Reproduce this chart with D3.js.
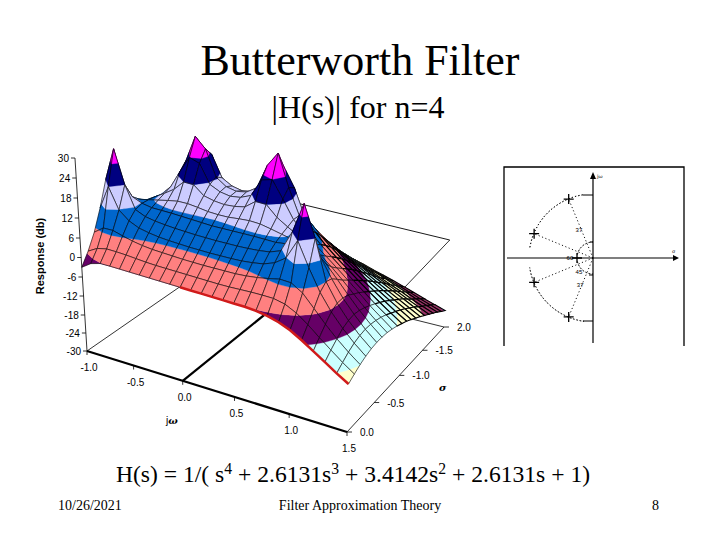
<!DOCTYPE html>
<html>
<head>
<meta charset="utf-8">
<script src="https://cdnjs.cloudflare.com/ajax/libs/d3/7.8.5/d3.min.js"></script>
<style>
  body { margin: 0; background: #fff; }
  text { fill: #000; }
</style>
</head>
<body>
<svg id="chart" width="720" height="540"></svg>
<script>
// grid of the surface
var omegas = [-1, -0.9, -0.8, -0.7, -0.6, -0.5, -0.4, -0.3, -0.2, -0.1, 0, 0.1, 0.2, 0.3, 0.4, 0.5, 0.6, 0.7, 0.8, 0.9, 1, 1.1, 1.2, 1.3, 1.4, 1.5]
var sigmas = [0, -0.1, -0.2, -0.3, -0.4, -0.5, -0.6, -0.7, -0.8, -0.9, -1, -1.1, -1.2, -1.3, -1.4, -1.5, -1.6, -1.7, -1.8, -1.9, -2]

// estimated response in db, one row per sigma, one column per omega
var responseDb = [
  [-3, -1, -0.1, 0, 0, 0, 0, 0, 0, 0, 0, 0, 0, 0, 0, 0, 0, -0.2, -0.7, -1.6, -3, -5, -7.3, -9.6, -12, -14.2],
  [0.5, 2.2, 2.9, 2.9, 2.8, 2.6, 2.4, 2.3, 2.3, 2.3, 2.3, 2.3, 2.3, 2.3, 2.4, 2.6, 2.8, 2.9, 2.9, 2.2, 0.5, -2, -4.9, -7.7, -10.5, -13],
  [4.9, 7, 7.1, 6.3, 5.6, 5.1, 4.8, 4.7, 4.6, 4.5, 4.5, 4.5, 4.6, 4.7, 4.8, 5.1, 5.6, 6.3, 7.1, 7, 4.9, 1.2, -2.6, -6, -9.1, -11.9],
  [10.8, 18, 11.8, 9.4, 8.1, 7.5, 7.1, 6.9, 6.8, 6.7, 6.7, 6.7, 6.8, 6.9, 7.1, 7.5, 8.1, 9.4, 11.8, 18, 10.8, 4.4, -0.6, -4.6, -8.1, -11.1],
  [18, 28, 18, 11.4, 10.1, 9.6, 9.3, 9.1, 9, 8.9, 8.9, 8.9, 9, 9.1, 9.3, 9.6, 10.1, 11.4, 18, 27.5, 18, 6, 0.4, -3.9, -7.5, -10.6],
  [10.7, 17, 13.1, 11.9, 11.4, 11.4, 11.4, 11.3, 11.2, 11.1, 11, 11.1, 11.2, 11.3, 11.4, 11.4, 11.4, 11.9, 13.1, 17, 10.7, 5.2, 0.3, -3.7, -7.3, -10.4],
  [7.1, 9.8, 11, 11.6, 12.3, 13, 13.6, 13.7, 13.4, 13, 12.9, 13, 13.4, 13.7, 13.6, 13, 12.3, 11.6, 11, 9.8, 7.1, 3.4, -0.5, -4.2, -7.5, -10.5],
  [4.6, 7.3, 9.4, 11.2, 13, 15, 18, 18, 15.5, 14.8, 14.5, 14.8, 15.5, 18, 18, 15, 13, 11.2, 9.4, 7.3, 4.6, 1.5, -1.8, -5, -8, -10.8],
  [2.7, 5.4, 8, 10.6, 13.7, 19, 24, 23, 17.5, 16.1, 15.6, 16.1, 17.5, 23, 24, 19, 13.7, 10.6, 8, 5.4, 2.7, -0.1, -3, -6, -8.7, -11.4],
  [1, 3.7, 6.5, 9.6, 13.5, 21, 29, 26, 18.4, 16.3, 15.7, 16.3, 18.4, 26, 30.5, 21, 13.5, 9.6, 6.5, 3.7, 1, -1.7, -4.4, -7.1, -9.6, -12.1],
  [-0.7, 1.9, 4.7, 7.9, 11.7, 19.5, 25, 23, 16.8, 15.1, 14.5, 15.1, 16.8, 23, 25, 19.5, 11.7, 7.9, 4.7, 1.9, -0.7, -3.3, -5.8, -8.3, -10.7, -13],
  [-2.4, 0, 2.7, 5.5, 8.6, 11.9, 16, 16, 13.5, 12.7, 12.3, 12.7, 13.5, 16, 16, 11.9, 8.6, 5.5, 2.7, 0, -2.4, -4.9, -7.2, -9.5, -11.8, -13.9],
  [-4.3, -2, 0.4, 2.8, 5.3, 7.5, 9.2, 9.9, 9.7, 9.5, 9.4, 9.5, 9.7, 9.9, 9.2, 7.5, 5.3, 2.8, 0.4, -2, -4.3, -6.5, -8.7, -10.8, -12.9, -15],
  [-6.2, -4.1, -2, 0.1, 2, 3.8, 5.1, 5.8, 6.1, 6.2, 6.2, 6.2, 6.1, 5.8, 5.1, 3.8, 2, 0.1, -2, -4.1, -6.2, -8.2, -10.2, -12.2, -14.1, -16.1],
  [-8.1, -6.2, -4.4, -2.6, -1, 0.4, 1.6, 2.3, 2.7, 2.9, 3, 2.9, 2.7, 2.3, 1.6, 0.4, -1, -2.6, -4.4, -6.2, -8.1, -10, -11.8, -13.6, -15.4, -17.2],
  [-10, -8.3, -6.7, -5.2, -3.8, -2.6, -1.6, -0.9, -0.4, -0.1, 0, -0.1, -0.4, -0.9, -1.6, -2.6, -3.8, -5.2, -6.7, -8.3, -10, -11.6, -13.3, -14.9, -16.6, -18.4],
  [-11.9, -10.4, -8.9, -7.4, -6, -5, -4.4, -3.8, -3.3, -3.1, -3, -3.1, -3.3, -3.8, -4.4, -5, -6, -7.4, -8.9, -10.4, -11.9, -13.4, -14.9, -16.5, -18, -19.6],
  [-13.8, -12.4, -11.1, -9.7, -8.5, -7.7, -7.1, -6.5, -6, -5.8, -5.7, -5.8, -6, -6.5, -7.1, -7.7, -8.5, -9.7, -11.1, -12.4, -13.8, -15.2, -16.5, -18, -19.4, -20.8],
  [-15.4, -14.2, -13.1, -11.9, -10.9, -10.2, -9.6, -9.1, -8.7, -8.5, -8.4, -8.5, -8.7, -9.1, -9.6, -10.2, -10.9, -11.9, -13.1, -14.2, -15.4, -16.7, -18, -19.4, -20.7, -22],
  [-17.2, -16.1, -15.1, -14, -13.1, -12.4, -11.9, -11.4, -11.1, -10.9, -10.8, -10.9, -11.1, -11.4, -11.9, -12.4, -13.1, -14, -15.1, -16.1, -17.2, -18.4, -19.6, -20.9, -22.1, -23.3],
  [-18.9, -17.9, -17, -16, -15.2, -14.6, -14.1, -13.7, -13.4, -13.2, -13.1, -13.2, -13.4, -13.7, -14.1, -14.6, -15.2, -16, -17, -17.9, -18.9, -20, -21.1, -22.3, -23.4, -24.5]
]

// colour bands, 6 db each
var bandFloors = [-36, -24, -18, -12, -6, 0, 6, 12, 18, 24]
var bandCeils = [-24, -18, -12, -6, 0, 6, 12, 18, 24, 99]
var bandColors = ['#9999ff', '#993366', '#ffffcc', '#ccffff', '#660066', '#ff8080', '#0066cc', '#ccccff', '#000080', '#ff00ff']

// axis ticks
var dbTicks = [30, 24, 18, 12, 6, 0, -6, -12, -18, -24, -30]
var omegaTicks = [-1, -0.5, 0, 0.5, 1, 1.5]
var omegaLabels = ['-1.0', '-0.5', '0.0', '0.5', '1.0', '1.5']
var sigmaTicks = [0, -0.5, -1, -1.5, -2]
var sigmaLabels = ['0.0', '-0.5', '-1.0', '-1.5', '2.0']

// poles for the s plane sketch
var poleSigma = [-0.38, -0.92, -0.92, -0.38, -0.25]
var poleOmega = [0.92, 0.38, -0.38, -0.92, 0]
var angleLabels = ['37', '45', '37', '60']
var angleSigma = [-0.22, -0.22, -0.2, -0.36]
var angleOmega = [0.44, -0.22, -0.42, 0]

var svg = d3.select('#chart')

var uScale = d3.scaleLinear().domain([-1, 1.5]).range([0, 1])
var vScale = d3.scaleLinear().domain([0, -2]).range([0, 1])
var dbHeight = d3.scaleLinear().domain([-30, -18, -6, 6, 18, 30]).range([0, 36, 74, 113, 153, 193])

// floor corners on screen, then the perspective map of the floor
var x0 = 87, y0 = 351, x1 = 347, y1 = 432, x2 = 444, y2 = 327, x3 = 207, y3 = 268
var sx = x0 - x1 + x2 - x3, sy = y0 - y1 + y2 - y3
var dx1 = x1 - x2, dx2 = x3 - x2, dy1 = y1 - y2, dy2 = y3 - y2
var den = dx1 * dy2 - dx2 * dy1
var g = (sx * dy2 - dx2 * sy) / den, h = (dx1 * sy - sx * dy1) / den
var a = x1 - x0 + g * x1, b = x3 - x0 + h * x3
var d = y1 - y0 + g * y1, e = y3 - y0 + h * y3

function project(omega, sigma, db) {
  var u = uScale(omega), v = vScale(sigma)
  var w = g * u + h * v + 1
  var fx = (a * u + b * v + x0) / w
  var fy = (d * u + e * v + y0) / w
  var up = dbHeight(db)
  // verticals lean in towards the middle
  return [260 + (fx - 260) * (1 + up * 0.00036), fy - up]
}

function line3(p, q) {
  return 'M' + project(p[0], p[1], p[2]).join(',') + 'L' + project(q[0], q[1], q[2]).join(',')
}

// floor and frame, these sit behind the surface
var frame = [
  { from: [-1, 0, -30], to: [1.5, 0, -30], w: 2.2 },
  { from: [0, 0, -30], to: [0, -2, -30], w: 2.2 },
  { from: [-1, 0, -30], to: [-1, -2, -30], w: 0.8 },
  { from: [1.5, 0, -30], to: [1.5, -2, -30], w: 0.8 },
  { from: [0.7, -2, -30], to: [1.5, -2, -30], w: 0.8 },
  { from: [0.02, -2, -2], to: [1.5, -2, -2], w: 0.9 },
  { from: [1.5, -2, -2], to: [1.5, -0.95, -2], w: 0.8 }
]
svg.append('g').selectAll('path').data(frame).join('path')
  .attr('d', function (f) { return line3(f.from, f.to) })
  .attr('stroke', '#000').attr('stroke-width', function (f) { return f.w }).attr('fill', 'none')

// clip a cell's corners to one db band
function clipBand(pts, lo, hi) {
  function cut(list, keep, level) {
    var out = []
    list.forEach(function (p, i) {
      var q = list[(i + 1) % list.length]
      if (keep(p[2])) out.push(p)
      if (keep(p[2]) != keep(q[2])) {
        var t = (level - p[2]) / (q[2] - p[2])
        out.push([p[0] + t * (q[0] - p[0]), p[1] + t * (q[1] - p[1]), level])
      }
    })
    return out
  }
  var r = cut(pts, function (z) { return z >= lo }, lo)
  if (r.length) r = cut(r, function (z) { return z <= hi }, hi)
  return r
}

function polyPath(pts) {
  return 'M' + pts.map(function (p) { return project(p[0], p[1], p[2]).join(',') }).join('L') + 'Z'
}

// cells back to front so the near ones paint over the far ones
var cells = []
for (var r = sigmas.length - 2; r >= 0; r--) {
  for (var c = 0; c < omegas.length - 1; c++) {
    cells.push([
      [omegas[c], sigmas[r + 1], responseDb[r + 1][c]],
      [omegas[c + 1], sigmas[r + 1], responseDb[r + 1][c + 1]],
      [omegas[c + 1], sigmas[r], responseDb[r][c + 1]],
      [omegas[c], sigmas[r], responseDb[r][c]]
    ])
  }
}

var cellG = svg.append('g').selectAll('g').data(cells).join('g')
cellG.each(function (cell) {
  var node = d3.select(this)
  bandColors.forEach(function (col, i) {
    var part = clipBand(cell, bandFloors[i], bandCeils[i])
    if (part.length > 2) {
      node.append('path').attr('d', polyPath(part)).attr('fill', col).attr('stroke', col).attr('stroke-width', 0.3)
    }
  })
  // the far right corner of the mesh is packed much tighter in the picture
  var packed = cell[0][0] >= 0.7 && cell[0][1] <= -1
  node.append('path').attr('d', polyPath(cell)).attr('fill', 'none').attr('stroke', '#000').attr('stroke-width', packed ? 1.1 : 0.6)
})

// red front edge
var edge = omegas.map(function (o, i) { return project(o, 0, responseDb[0][i]) }).filter(function (p, i) { return omegas[i] >= 0 })
svg.append('path').attr('d', d3.line()(edge)).attr('fill', 'none').attr('stroke', '#d01a1a').attr('stroke-width', 2.5)

// response axis
var axisG = svg.append('g').attr('font-family', 'Liberation Sans, Arial').attr('font-size', 10)
axisG.append('path').attr('d', line3([-1, 0, -30], [-1, 0, 30])).attr('stroke', '#000').attr('stroke-width', 0.8)
dbTicks.forEach(function (t) {
  var p = project(-1, 0, t)
  axisG.append('line').attr('x1', p[0] - 4).attr('x2', p[0]).attr('y1', p[1]).attr('y2', p[1]).attr('stroke', '#000').attr('stroke-width', 0.8)
  axisG.append('text').attr('x', p[0] - 6).attr('y', p[1] + 3.5).attr('text-anchor', 'end').text(t)
})
axisG.append('text').attr('transform', 'translate(44,256) rotate(-90)').attr('text-anchor', 'middle')
  .attr('font-weight', 'bold').attr('font-size', 11).text('Response (db)')

// omega and sigma ticks along the floor
omegaTicks.forEach(function (t, i) {
  var p = project(t, 0, -30)
  axisG.append('line').attr('x1', p[0]).attr('x2', p[0]).attr('y1', p[1]).attr('y2', p[1] + 4).attr('stroke', '#000').attr('stroke-width', 0.8)
  axisG.append('text').attr('x', p[0] + 2).attr('y', p[1] + 20).attr('text-anchor', 'middle').text(omegaLabels[i])
})
sigmaTicks.forEach(function (t, i) {
  var p = project(1.5, t, -30)
  axisG.append('line').attr('x1', p[0]).attr('x2', p[0] + 5).attr('y1', p[1]).attr('y2', p[1]).attr('stroke', '#000').attr('stroke-width', 0.8)
  axisG.append('text').attr('x', p[0] + 13).attr('y', p[1] + 4).text(sigmaLabels[i])
})
axisG.append('text').attr('x', 166).attr('y', 424).text('j').append('tspan').attr('font-family', 'DejaVu Serif').attr('font-style', 'italic').attr('font-weight', 'bold').text('ω')
axisG.append('text').attr('x', 439).attr('y', 391).attr('font-family', 'DejaVu Serif').attr('font-style', 'italic').attr('font-weight', 'bold').text('σ')

// s plane sketch
var planeG = svg.append('g')
var px = d3.scaleLinear().domain([-1, 1]).range([529, 657])
var py = d3.scaleLinear().domain([-1, 1]).range([322, 194])
var ox = px(0), oy = py(0)

planeG.append('path').attr('d', 'M504,346V167H684V346').attr('fill', 'none').attr('stroke', '#000').attr('stroke-width', 1.3)
planeG.append('path').attr('d', 'M507,' + oy + 'H676M' + ox + ',176V343').attr('fill', 'none').attr('stroke', '#000').attr('stroke-width', 1.2)
planeG.append('path').attr('d', 'M673,255L679,' + oy + 'L673,261ZM590,179L' + ox + ',172L596,179Z').attr('fill', '#000')

var bigArc = d3.arc().innerRadius(64).outerRadius(64)
var smallArc = d3.arc().innerRadius(16).outerRadius(16)
var arcs = [
  bigArc({ startAngle: -0.16, endAngle: -1.42 }),
  bigArc({ startAngle: -3.0, endAngle: -1.72 }),
  smallArc({ startAngle: 0, endAngle: -1.4 }),
  smallArc({ startAngle: -3.14, endAngle: -1.74 })
]
planeG.selectAll('path.arc').data(arcs).join('path').attr('class', 'arc')
  .attr('d', function (s) { return s })
  .attr('transform', 'translate(' + ox + ',' + oy + ')')
  .attr('fill', 'none').attr('stroke', '#000').attr('stroke-width', 0.9).attr('stroke-dasharray', '1.2 2.2')

planeG.append('path').attr('d', 'M583,195H' + ox + 'M583,321H' + ox + 'M590,242H' + ox + 'M589,275H' + ox)
  .attr('stroke', '#000').attr('stroke-width', 1)

poleSigma.slice(0, 4).forEach(function (s, i) {
  planeG.append('line').attr('x1', ox).attr('y1', oy).attr('x2', px(s)).attr('y2', py(poleOmega[i]))
    .attr('stroke', '#000').attr('stroke-width', 0.9).attr('stroke-dasharray', '1.2 2.4')
})
poleSigma.forEach(function (s, i) {
  var cx = px(s), cy = py(poleOmega[i])
  planeG.append('path').attr('d', 'M' + (cx - 5) + ',' + cy + 'H' + (cx + 5) + 'M' + cx + ',' + (cy - 5) + 'V' + (cy + 5))
    .attr('stroke', '#000').attr('stroke-width', 1.3)
})
angleLabels.forEach(function (t, i) {
  planeG.append('text').attr('x', px(angleSigma[i])).attr('y', py(angleOmega[i]) + 2).attr('text-anchor', 'middle')
    .attr('font-family', 'Liberation Sans, Arial').attr('font-size', 6).text(t)
})
planeG.append('text').attr('x', 597).attr('y', 178).attr('font-family', 'DejaVu Serif').attr('font-size', 5).text('jω')
planeG.append('text').attr('x', 672).attr('y', 253).attr('font-family', 'DejaVu Serif').attr('font-size', 5).text('σ')

// slide text
var slide = svg.append('g').attr('font-family', 'Liberation Serif, Times New Roman')
slide.append('text').attr('x', 360).attr('y', 75).attr('text-anchor', 'middle').attr('font-size', 44).text('Butterworth Filter')
slide.append('text').attr('x', 358).attr('y', 118).attr('text-anchor', 'middle').attr('font-size', 32).text('|H(s)| for n=4')

var formula = slide.append('text').attr('x', 353).attr('y', 482).attr('text-anchor', 'middle').attr('font-size', 23.6)
var formulaParts = ['H(s) = 1/( s', '4', ' + 2.6131s', '3', ' + 3.4142s', '2', ' + 2.6131s + 1)']
formulaParts.forEach(function (t, i) {
  var isSup = i % 2 == 1
  formula.append('tspan').text(t).attr('font-size', isSup ? 15.7 : 23.6).attr('dy', isSup ? -8 : (i ? 8 : 0))
})

slide.append('text').attr('x', 58).attr('y', 510).attr('font-size', 14).text('10/26/2021')
slide.append('text').attr('x', 360).attr('y', 510).attr('text-anchor', 'middle').attr('font-size', 14).text('Filter Approximation Theory')
slide.append('text').attr('x', 659).attr('y', 510).attr('text-anchor', 'end').attr('font-size', 14).text('8')
</script>
</body>
</html>
